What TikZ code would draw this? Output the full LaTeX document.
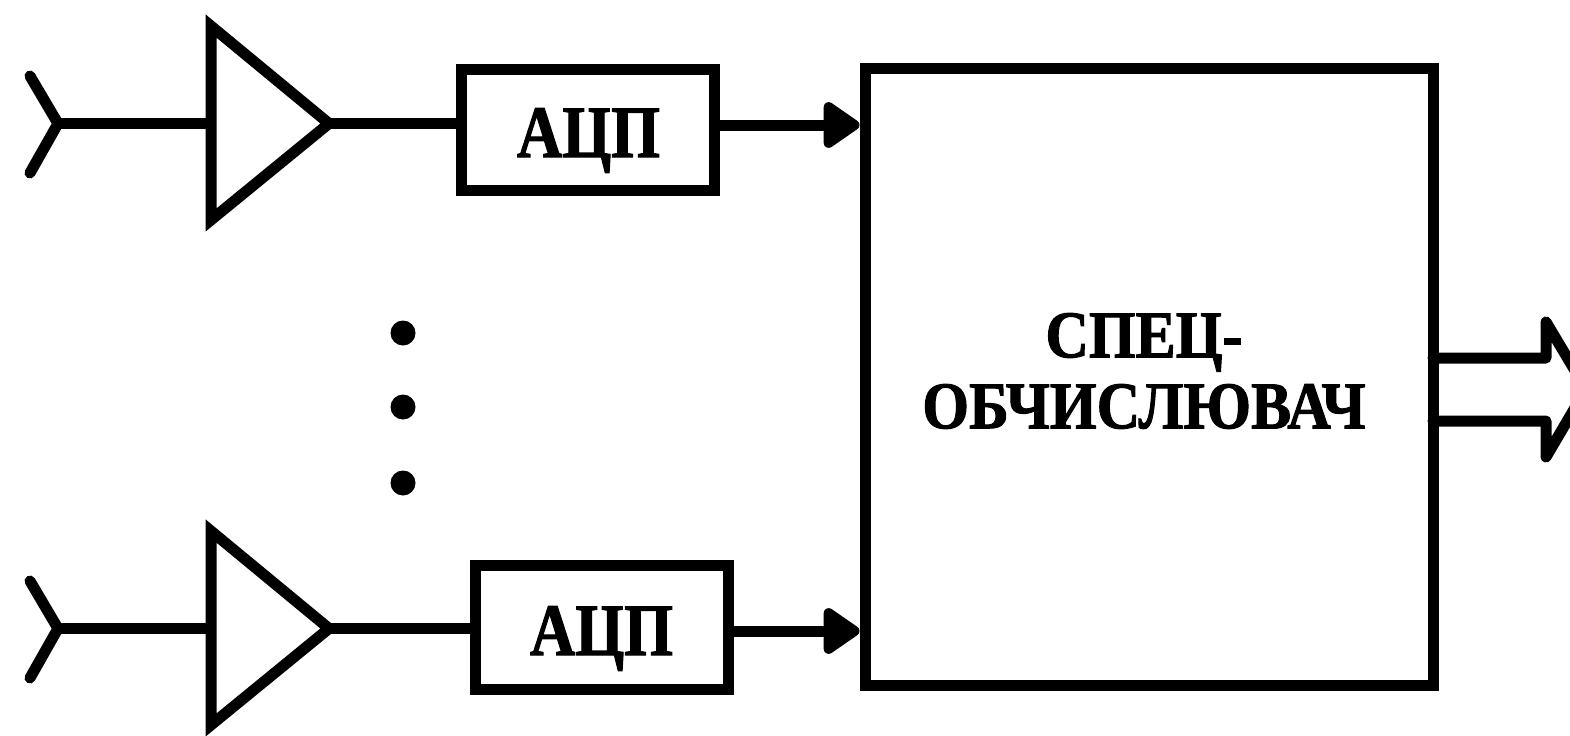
\documentclass[tikz,border=0pt]{standalone}
\usepackage{fontspec}
\setmainfont{Liberation Serif}
\newfontfamily\adcfont[FakeStretch=0.85,BoldFeatures={FakeStretch=0.85,FakeBold=1.5}]{Liberation Serif}
\newfontfamily\procfont[FakeStretch=0.90,BoldFeatures={FakeStretch=0.90,FakeBold=1.5}]{Liberation Serif}
\usetikzlibrary{arrows.meta}

\tikzset{
  blockbox/.style={draw, rectangle, inner sep=0pt},
  adctext/.style={anchor=base, inner sep=0pt, font=\adcfont\bfseries\fontsize{21}{24}\selectfont},
  proctext/.style={inner sep=0pt, align=center, font=\procfont\bfseries\fontsize{19}{20.2}\selectfont},
  dotmark/.style={circle, fill, inner sep=0pt, minimum size=0.25cm},
  wire/.style={line cap=round, line join=round},
  ampshape/.style={line join=miter, miter limit=10},
}

\begin{document}
\begin{tikzpicture}[>={Triangle[length=0.40cm,width=0.52cm,round]}, line width=0.11cm]
\useasboundingbox (0,0) rectangle (15.70,-7.36);
\clip (0,0) rectangle (15.70,-7.36);

\node[blockbox, minimum width=2.535cm, minimum height=1.21cm] (adca) at (5.88,-1.295) {};
\node[blockbox, minimum width=2.53cm, minimum height=1.24cm] (adcb) at (6.02,-6.27) {};
\node[blockbox, minimum width=5.68cm, minimum height=6.17cm] (proc) at (11.49,-3.765) {};

\node[adctext] (adcalabel) at (5.885,-1.57) {АЦП};
\node[adctext] (adcblabel) at (6.015,-6.55) {АЦП};
\node[proctext] (proclabel) at (11.44,-3.71) {СПЕЦ-\\ОБЧИСЛЮВАЧ};

\node[dotmark] (dota) at (4.03,-3.33) {};
\node[dotmark] (dotb) at (4.03,-4.07) {};
\node[dotmark] (dotc) at (4.03,-4.83) {};

% upper channel
\coordinate (anta) at (0.58,-1.235);
\coordinate (antau) at (0.30,-0.76);
\coordinate (antad) at (0.30,-1.73);
\coordinate (ampain) at (2.11,-1.235);
\coordinate (ampatop) at (2.11,-0.26);
\coordinate (ampabot) at (2.11,-2.20);
\coordinate (ampaout) at (3.29,-1.235);
\coordinate (adcaout) at (7.15,-1.25);

\draw[wire] (antau) -- (anta) -- (antad);
\draw (anta) -- (ampain);
\draw[ampshape] (ampatop) -- (ampaout) -- (ampabot) -- cycle;
\draw (ampaout) -- (ampaout -| adca.west);
\draw[->] (adcaout) -- (adcaout -| proc.west);

% lower channel
\coordinate (antb) at (0.58,-6.285);
\coordinate (antbu) at (0.30,-5.81);
\coordinate (antbd) at (0.30,-6.78);
\coordinate (ampbin) at (2.11,-6.285);
\coordinate (ampbtop) at (2.11,-5.31);
\coordinate (ampbbot) at (2.11,-7.25);
\coordinate (ampbout) at (3.29,-6.285);
\coordinate (adcbout) at (7.28,-6.31);

\draw[wire] (antbu) -- (antb) -- (antbd);
\draw (antb) -- (ampbin);
\draw[ampshape] (ampbtop) -- (ampbout) -- (ampbbot) -- cycle;
\draw (ampbout) -- (ampbout -| adcb.west);
\draw[->] (adcbout) -- (adcbout -| proc.west);

% output bus
\coordinate (busu) at (14.33,-3.58);
\coordinate (busd) at (14.33,-4.21);
\coordinate (headu) at (15.46,-3.58);
\coordinate (headd) at (15.46,-4.21);
\coordinate (headut) at (15.46,-3.22);
\coordinate (headdt) at (15.46,-4.57);
\coordinate (headtip) at (15.86,-3.89);

\draw[wire] (busu) -- (headu) -- (headut) -- (headtip) -- (headdt) -- (headd) -- (busd);
\end{tikzpicture}
\end{document}
